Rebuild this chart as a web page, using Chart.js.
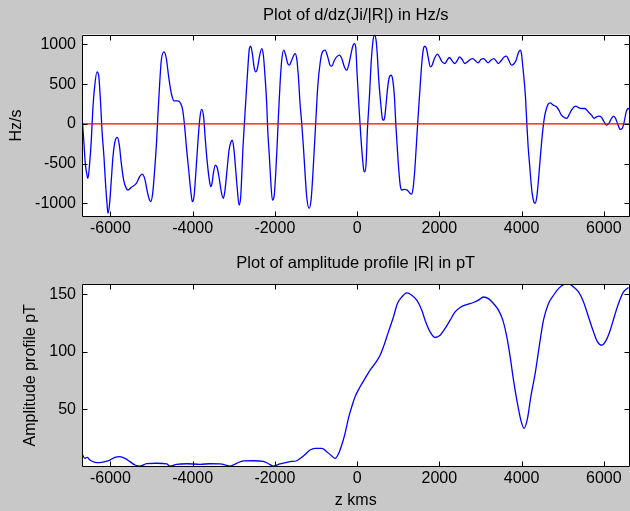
<!DOCTYPE html>
<html>
<head>
<meta charset="utf-8">
<script src="https://cdn.jsdelivr.net/npm/chart.js@4.4.1/dist/chart.umd.min.js"></script>
<style>
  html, body { margin: 0; padding: 0; background: #c8c8c8; }
  body { width: 630px; height: 511px; position: relative; overflow: hidden; }
  canvas { position: absolute; left: 0; }
  #topChart { top: 0; }
  #ampChart { top: 250px; }
</style>
</head>
<body>
<canvas id="topChart" width="630" height="250"></canvas>
<canvas id="ampChart" width="630" height="261"></canvas>
<script>
// z positions (kms) and d/dz(Ji/|R|) in Hz/s
const zTop = [
  -6690, -6642, -6610, -6561, -6545, -6504, -6464, -6423, -6383, -6326, -6286, -6237, -6204, -6156,
  -6123, -6083, -6058, -6018, -5977, -5937, -5880, -5831, -5782, -5734, -5677, -5612, -5572, -5491,
  -5369, -5288, -5231, -5166, -5109, -5061, -5020, -4971, -4923, -4874, -4842, -4801, -4761, -4696,
  -4639, -4582, -4517, -4452, -4355, -4290, -4241, -4193, -4144, -4095, -4047, -4006, -3966, -3917,
  -3868, -3820, -3779, -3731, -3690, -3641, -3593, -3560, -3528, -3495, -3447, -3398, -3349, -3301,
  -3252, -3212, -3163, -3114, -3066, -3033, -2993, -2952, -2911, -2871, -2830, -2806, -2774, -2741,
  -2701, -2660, -2620, -2587, -2547, -2506, -2466, -2425, -2376, -2319, -2279, -2238, -2198, -2173,
  -2133, -2101, -2060, -2019, -1979, -1946, -1914, -1873, -1833, -1784, -1736, -1687, -1646, -1590,
  -1508, -1468, -1427, -1387, -1346, -1306, -1265, -1225, -1168, -1119, -1079, -1038, -998, -957,
  -900, -843, -779, -714, -657, -616, -551, -495, -430, -373, -308, -252, -195, -146,
  -97, -65, -32, 0, 41, 81, 122, 162, 186, 219, 251, 300, 341, 389,
  422, 462, 495, 527, 568, 608, 641, 673, 706, 746, 787, 827, 868, 908,
  941, 981, 1014, 1054, 1095, 1152, 1217, 1273, 1322, 1362, 1403, 1444, 1484, 1533,
  1573, 1614, 1646, 1687, 1727, 1784, 1825, 1881, 1954, 2003, 2068, 2133, 2190, 2246,
  2311, 2376, 2441, 2490, 2555, 2620, 2684, 2749, 2814, 2879, 2944, 3009, 3074, 3123,
  3187, 3252, 3325, 3382, 3431, 3512, 3577, 3633, 3690, 3755, 3820, 3868, 3917, 3966,
  3998, 4031, 4063, 4095, 4128, 4160, 4193, 4225, 4258, 4298, 4331, 4371, 4404, 4444,
  4485, 4525, 4566, 4606, 4647, 4696, 4769, 4850, 4907, 4971, 5036, 5101, 5150, 5215,
  5280, 5320, 5377, 5458, 5539, 5620, 5701, 5766, 5823, 5880, 5945, 5993, 6066, 6123,
  6188, 6237, 6286, 6334, 6399, 6448, 6496, 6545, 6593, 6625
];
const dTop = [
  110, -247, -498, -666, -687, -498, -205, 214, 466, 654, 612, 256, -79, -415,
  -708, -1001, -1127, -1001, -708, -415, -205, -171, -268, -498, -708, -813, -834, -800,
  -750, -666, -633, -687, -834, -939, -981, -876, -582, -205, 131, 508, 801, 906,
  822, 592, 382, 290, 290, 256, 172, -38, -331, -582, -834, -981, -918, -582,
  -205, 88, 181, 81, -205, -498, -708, -792, -750, -624, -520, -560, -700, -860,
  -939, -834, -582, -331, -226, -205, -331, -582, -834, -1023, -918, -666, -289, 5,
  340, 676, 948, 977, 885, 717, 654, 696, 843, 948, 864, 592, 256, -79,
  -415, -708, -960, -918, -624, -289, 88, 508, 801, 927, 864, 760, 738, 801,
  885, 822, 592, 256, 5, -289, -624, -918, -1064, -960, -666, -289, 88, 466,
  760, 906, 927, 843, 738, 726, 801, 843, 864, 822, 717, 676, 760, 885,
  990, 1011, 960, 634, 256, -79, -373, -582, -604, -498, -79, 340, 760, 1053,
  1116, 1053, 843, 550, 298, 88, 46, 88, 256, 466, 592, 612, 550, 340,
  5, -331, -582, -792, -834, -825, -834, -868, -885, -813, -582, -247, 88, 466,
  760, 948, 977, 948, 843, 717, 738, 822, 877, 843, 780, 760, 801, 835,
  793, 760, 801, 843, 810, 760, 780, 810, 822, 793, 768, 810, 822, 801,
  768, 801, 822, 793, 760, 801, 843, 852, 801, 738, 760, 801, 885, 927,
  885, 717, 550, 340, 5, -289, -498, -708, -876, -981, -1001, -918, -750, -498,
  -247, -38, 109, 193, 248, 264, 235, 214, 172, 109, 81, 68, 109, 172,
  214, 223, 206, 193, 193, 151, 109, 68, 88, 97, 81, 38, -17, 5,
  68, 97, 68, 5, -71, -58, 25, 151, 193, 180
];

// z positions (kms) and amplitude profile |R| in pT
const zAmp = [
  -6690, -6618, -6561, -6496, -6375, -6253, -6131, -6010, -5888, -5766, -5645, -5523, -5401, -5280,
  -5118, -4874, -4631, -4550, -4388, -4144, -3820, -3577, -3333, -3090, -2928, -2765, -2522, -2279,
  -2157, -2036, -1873, -1630, -1468, -1306, -1144, -1022, -860, -738, -616, -535, -454, -373,
  -292, -211, -130, -49, 73, 195, 316, 438, 560, 641, 762, 884, 981, 1087,
  1209, 1330, 1452, 1574, 1654, 1776, 1898, 2019, 2141, 2263, 2384, 2506, 2668, 2830,
  2952, 3074, 3196, 3317, 3439, 3544, 3641, 3723, 3804, 3885, 3982, 4063, 4144, 4225,
  4331, 4428, 4533, 4655, 4777, 4898, 5020, 5142, 5263, 5385, 5507, 5628, 5750, 5847,
  5953, 6058, 6156, 6253, 6358, 6480, 6602
];
const ampVals = [
  11.0, 7.2, 8.1, 5.7, 3.7, 3.4, 4.3, 5.7, 8.1, 8.6, 7.2, 4.3, 1.4, 0.5,
  2.5, 2.9, 2.3, 0.5, 2.0, 2.5, 2.0, 2.5, 2.3, 0.5, 2.9, 4.9, 5.1, 4.6,
  2.5, 0.5, 2.3, 4.3, 5.1, 9.2, 14.4, 15.9, 15.9, 13.0, 9.2, 7.2, 11.0, 18.8,
  29.0, 42.0, 52.1, 60.8, 69.5, 76.8, 84.0, 89.8, 97.0, 104.3, 117.3, 130.3, 142.0, 147.7,
  151.2, 149.2, 144.9, 136.2, 127.5, 117.3, 112.4, 114.4, 120.3, 127.5, 134.7, 138.5, 141.1, 142.9,
  144.9, 147.7, 146.3, 142.0, 136.2, 127.5, 113.0, 95.6, 75.3, 57.9, 40.5, 33.3, 42.0, 60.8,
  81.1, 104.3, 127.5, 142.0, 149.2, 155.0, 158.5, 159.4, 156.4, 152.1, 143.4, 130.3, 117.3, 108.6,
  105.7, 110.1, 118.8, 130.3, 142.0, 152.1, 155.9
];

// axis limits and tick labels
const zMin = -6690, zMax = 6625;
const zTicks = [-6000, -4000, -2000, 0, 2000, 4000, 6000];
const topRange = [-1170, 1125];
const topTicks = [-1000, -500, 0, 500, 1000];
const ampRange = [0, 159];
const ampTicks = [50, 100, 150];

const FONT = '"Liberation Sans", Arial, Helvetica, sans-serif';

// white axes box, black frame and inward tick marks on all four sides
const axesBox = {
  id: 'axesBox',
  beforeDraw(chart) {
    const { ctx, chartArea: a } = chart;
    ctx.save();
    ctx.fillStyle = '#fff';
    ctx.fillRect(a.left, a.top, a.right - a.left, a.bottom - a.top);
    ctx.restore();
  },
  afterDraw(chart) {
    const { ctx, chartArea: a, scales: { x, y } } = chart;
    const L = Math.round(a.left) + 0.5, R = Math.round(a.right) - 0.5;
    const T = Math.round(a.top) + 0.5, B = Math.round(a.bottom) - 0.5;
    const len = 5;
    ctx.save();
    ctx.strokeStyle = '#000';
    ctx.lineWidth = 1;
    ctx.beginPath();
    ctx.rect(L, T, R - L, B - T);
    x.ticks.forEach(t => {
      const px = Math.round(x.getPixelForValue(t.value)) + 0.5;
      ctx.moveTo(px, B); ctx.lineTo(px, B - len);
      ctx.moveTo(px, T); ctx.lineTo(px, T + len);
    });
    y.ticks.forEach(t => {
      const py = Math.round(y.getPixelForValue(t.value)) + 0.5;
      ctx.moveTo(L, py); ctx.lineTo(L + len, py);
      ctx.moveTo(R, py); ctx.lineTo(R - len, py);
    });
    ctx.stroke();
    ctx.restore();
  }
};

function makeChart(id, cfg) {
  const xScale = {
    type: 'linear',
    min: zMin,
    max: zMax,
    grid: { display: false, drawTicks: false },
    border: { display: false },
    ticks: { color: '#000', font: { family: FONT, size: 16 }, padding: 2, maxRotation: 0, callback: v => String(v) },
    afterBuildTicks: s => { s.ticks = zTicks.map(v => ({ value: v })); },
    afterFit: s => { s.height = cfg.xHeight; },
    title: cfg.xTitle
      ? { display: true, text: cfg.xTitle, color: '#000', font: { family: FONT, size: 16 }, padding: { top: 0, bottom: 0.5 } }
      : { display: false }
  };
  const yScale = {
    type: 'linear',
    min: cfg.yRange[0],
    max: cfg.yRange[1],
    grid: { display: false, drawTicks: false },
    border: { display: false },
    ticks: { color: '#000', font: { family: FONT, size: 16 }, padding: 6, callback: v => String(v) },
    afterBuildTicks: s => { s.ticks = cfg.yTicks.map(v => ({ value: v })); },
    afterFit: s => { s.width = 82; },
    title: { display: true, text: cfg.yTitle, color: '#000', font: { family: FONT, size: 16 }, padding: { top: cfg.yTitlePad, bottom: 0 } }
  };
  return new Chart(document.getElementById(id), {
    type: 'line',
    data: { datasets: cfg.datasets },
    options: {
      responsive: false,
      animation: false,
      layout: { padding: { top: 0, left: 0, right: 0.5, bottom: 0 } },
      elements: { point: { radius: 0 }, line: { cubicInterpolationMode: 'monotone' } },
      plugins: {
        legend: { display: false },
        tooltip: { enabled: false },
        title: {
          display: true,
          fullSize: false,
          text: cfg.title,
          color: '#000',
          font: { family: FONT, size: 16.5, weight: 'normal' },
          padding: cfg.titlePad
        }
      },
      scales: { x: xScale, y: yScale }
    },
    plugins: [axesBox]
  });
}

makeChart('topChart', {
  title: 'Plot of d/dz(Ji/|R|) in Hz/s',
  titlePad: { top: 6, bottom: 8.7 },
  xHeight: 33.3,
  yRange: topRange,
  yTicks: topTicks,
  yTitle: 'Hz/s',
  yTitlePad: 7.4,
  datasets: [
    {
      // zero reference line
      data: [{ x: zMin, y: 0 }, { x: zMax, y: 0 }],
      borderColor: '#ff0000',
      borderWidth: 1.2
    },
    {
      data: zTop.map((z, i) => ({ x: z, y: dTop[i] })),
      borderColor: '#0000ff',
      borderWidth: 1.3
    }
  ]
});

makeChart('ampChart', {
  title: 'Plot of amplitude profile |R| in pT',
  titlePad: { top: 4, bottom: 10.2 },
  xHeight: 44.4,
  xTitle: 'z kms',
  yRange: ampRange,
  yTicks: ampTicks,
  yTitle: 'Amplitude profile pT',
  yTitlePad: 21.4,
  datasets: [
    {
      data: zAmp.map((z, i) => ({ x: z, y: ampVals[i] })),
      borderColor: '#0000ff',
      borderWidth: 1.3
    }
  ]
});
</script>
</body>
</html>
